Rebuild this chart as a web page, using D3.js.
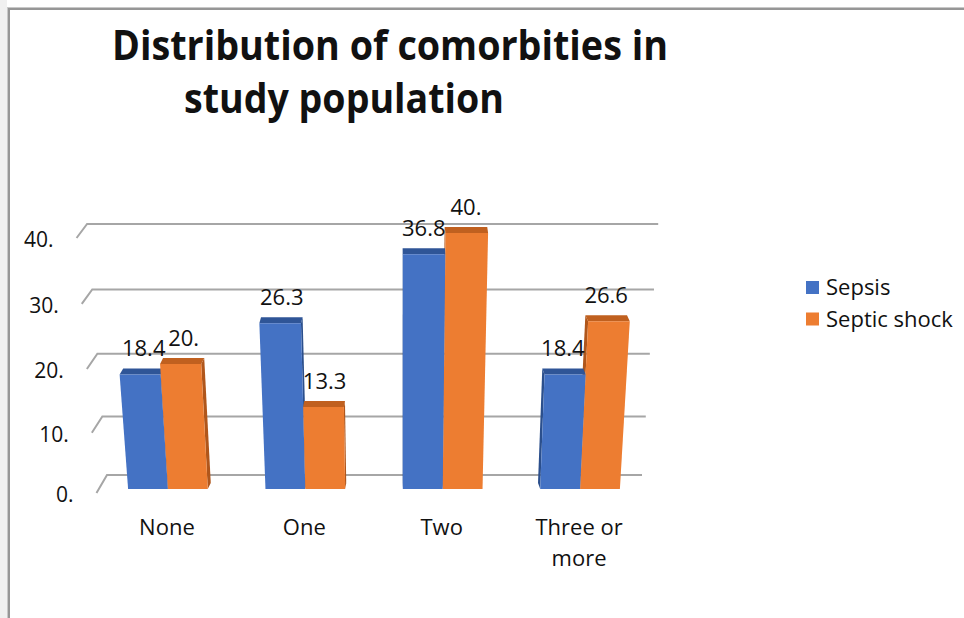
<!DOCTYPE html>
<html>
<head>
<meta charset="utf-8">
<script src="https://cdn.jsdelivr.net/npm/d3@7"></script>
<style>
  html, body { margin: 0; padding: 0; background: #fff; }
  svg { display: block; }
  text { font-family: "Open Sans", "Noto Sans", sans-serif; fill: #111; }
</style>
</head>
<body>
<svg id="chart" width="964" height="618"></svg>
<script>
// Share of patients (%) by number of comorbidities
const categories = ["None", "One", "Two", "Three or more"];
const seriesNames = ["Sepsis", "Septic shock"];
const sepsis = [18.4, 26.3, 36.8, 18.4];
const septicShock = [20.0, 13.3, 40.0, 26.6];
const yTicks = [0, 10, 20, 30, 40];
const titleLines = ["Distribution of comorbities in", "study population"];

const seriesValues = [sepsis, septicShock];
const colors = {
  front: ["#4472C4", "#ED7D31"],
  top:   ["#2F5597", "#C0601F"],
  side:  ["#2B4F8C", "#B0561B"]
};

// Excel-style number format "0.#": whole numbers keep a trailing point
const fmt = v => Number.isInteger(v) ? v + "." : v.toFixed(1);

const svg = d3.select("#chart");
const labelSize = 22;

// ---- frame ----
svg.append("rect").attr("width", 964).attr("height", 618).attr("fill", "#fff");
svg.append("rect").attr("x", 0).attr("y", 0).attr("width", 7).attr("height", 618).attr("fill", "#f0f0f0");
svg.append("line").attr("x1", 7.5).attr("x2", 7.5).attr("y1", 7).attr("y2", 618).attr("stroke", "#c8c8c8").attr("stroke-width", 1);
svg.append("line").attr("x1", 9).attr("x2", 9).attr("y1", 8).attr("y2", 618).attr("stroke", "#969696").attr("stroke-width", 2);
svg.append("line").attr("x1", 7).attr("x2", 964).attr("y1", 7.5).attr("y2", 7.5).attr("stroke", "#c8c8c8").attr("stroke-width", 1);
svg.append("line").attr("x1", 8).attr("x2", 964).attr("y1", 9).attr("y2", 9).attr("stroke", "#969696").attr("stroke-width", 2);

// ---- title ----
svg.append("text").attr("x", 112).attr("y", 60)
  .attr("font-size", 41).attr("font-weight", 700)
  .attr("textLength", 556).attr("lengthAdjust", "spacingAndGlyphs")
  .text(titleLines[0]);
svg.append("text").attr("x", 184).attr("y", 113)
  .attr("font-size", 41).attr("font-weight", 700)
  .attr("textLength", 320).attr("lengthAdjust", "spacingAndGlyphs")
  .text(titleLines[1]);

// ---- scales ----
const yBase = 489;           // floor line of the bar fronts
const vpX = 402;             // horizontal vanishing centre
const spreadK = 0.00027;     // perspective widening per pixel of height
const persp = (x, y) => vpX + (x - vpX) * (1 + spreadK * (yBase - y));

const x = d3.scaleBand().domain(categories).range([99.25, 648.75])
  .paddingInner(0.42).paddingOuter(0.21);
const xs = d3.scaleBand().domain(seriesNames).range([0, x.bandwidth()]);

// bar fronts, back wall and floor edge each sit at their own depth
const yFront = d3.scalePow().exponent(1.035).domain([0, 40]).range([yBase, 233]);
const yWall  = d3.scalePow().exponent(1.05).domain([0, 40]).range([475, 224]);
const yFloor = d3.scalePow().exponent(1.04).domain([0, 40]).range([493, 238]);

const wallLeft = 108.1, wallRight = 641.1;

// ---- gridlines and value axis ----
const grid = svg.append("g");
yTicks.forEach(t => {
  const yw = yWall(t), yf = yFloor(t);
  const xl = persp(wallLeft, yw), xr = persp(wallRight, yw);
  const xf = xl - 10.5;
  grid.append("polyline")
    .attr("points", [[xf, yf], [xl, yw], [xr, yw]].map(p => p.join(",")).join(" "))
    .attr("fill", "none").attr("stroke", "#a6a6a6").attr("stroke-width", 2);
  grid.append("text").attr("x", xf - 23).attr("y", yf + 9)
    .attr("text-anchor", "end").attr("font-size", 21)
    .text(fmt(t));
});

// ---- bars ----
const bars = [];
categories.forEach((c, i) => {
  seriesNames.forEach((s, j) => {
    const x0 = x(c) + xs(s), x1 = x0 + xs.bandwidth();
    bars.push({ c, s, j, v: seriesValues[j][i], x0, x1 });
  });
});
// paint the bars farthest from the view centre first
bars.sort((a, b) => Math.abs((b.x0 + b.x1) / 2 - vpX) - Math.abs((a.x0 + a.x1) / 2 - vpX));

const depth = 6;
const pts = arr => arr.map(p => p.join(",")).join(" ");
const gBars = svg.append("g");
bars.forEach(b => {
  const yt = yFront(b.v);
  const tl = persp(b.x0, yt), tr = persp(b.x1, yt);
  const shift = (vpX - (b.x0 + b.x1) / 2) * 0.014;
  const g = gBars.append("g");
  // side face
  const side = shift > 0
    ? [[b.x1, yBase], [tr, yt], [tr + shift, yt - depth], [b.x1 + shift, yBase - depth]]
    : [[b.x0, yBase], [tl, yt], [tl + shift, yt - depth], [b.x0 + shift, yBase - depth]];
  g.append("polygon").attr("points", pts(side)).attr("fill", colors.side[b.j]);
  // top face
  g.append("polygon")
    .attr("points", pts([[tl, yt], [tr, yt], [tr + shift, yt - depth], [tl + shift, yt - depth]]))
    .attr("fill", colors.top[b.j]);
  // front face
  g.append("polygon")
    .attr("points", pts([[b.x0, yBase], [b.x1, yBase], [tr, yt], [tl, yt]]))
    .attr("fill", colors.front[b.j]);
  b.labelX = (tl + tr) / 2 + shift;
  b.labelY = yt - 18;
});

// ---- data labels ----
bars.forEach(b => {
  svg.append("text").attr("x", b.labelX).attr("y", b.labelY)
    .attr("text-anchor", "middle").attr("font-size", labelSize)
    .text(fmt(b.v));
});

// ---- category labels ----
const wrap = s => {
  if (s.length <= 10) return [s];
  const k = s.lastIndexOf(" ");
  return [s.slice(0, k), s.slice(k + 1)];
};
categories.forEach(c => {
  const cxl = x(c) + x.bandwidth() / 2 - 1;
  const t = svg.append("text").attr("text-anchor", "middle").attr("font-size", labelSize)
    .attr("x", cxl).attr("y", 535);
  wrap(c).forEach((line, i) => {
    t.append("tspan").attr("x", cxl).attr("dy", i === 0 ? 0 : 31).text(line);
  });
});

// ---- legend ----
const legend = svg.append("g").attr("transform", "translate(806,281)");
seriesNames.forEach((s, j) => {
  const row = legend.append("g").attr("transform", `translate(0,${j * 31.5})`);
  row.append("rect").attr("width", 13).attr("height", 13).attr("fill", colors.front[j]);
  row.append("text").attr("x", 20).attr("y", 14).attr("font-size", labelSize).text(s);
});
</script>
</body>
</html>
